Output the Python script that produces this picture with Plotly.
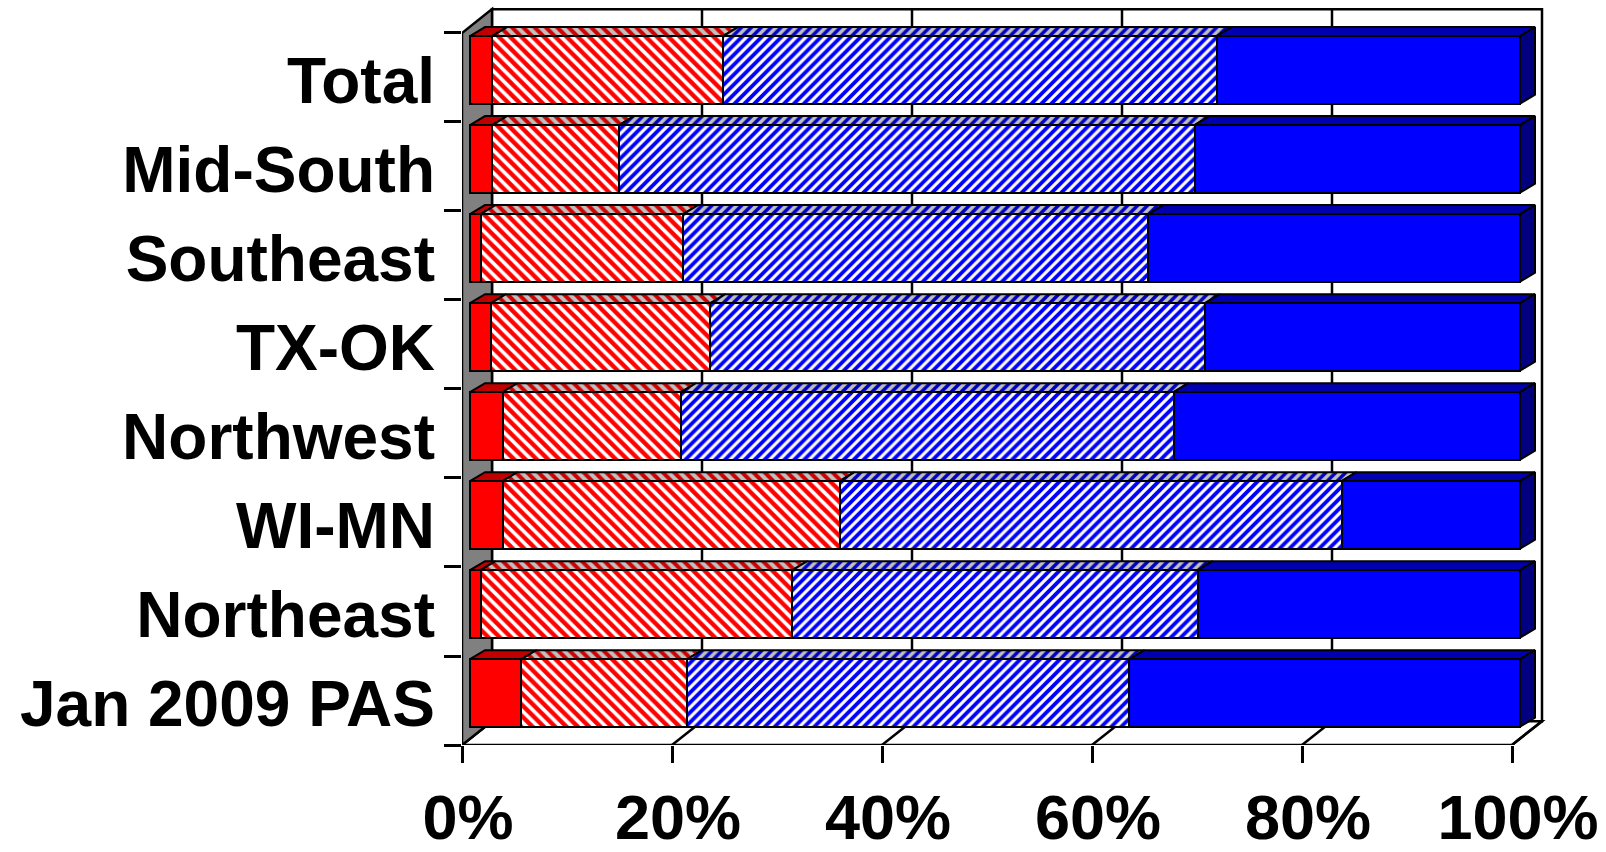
import plotly.graph_objects as go

# Regions, bottom to top as drawn on the category axis
categories = ["Jan 2009 PAS", "Northeast", "WI-MN", "Northwest",
              "TX-OK", "Southeast", "Mid-South", "Total"]

# Shares (%) of each stacked segment, left to right
solid_red = [4.9, 1.0, 3.1, 3.1, 2.0, 1.0, 2.1, 2.1]
hatched_red = [15.8, 29.7, 32.1, 17.0, 20.9, 19.3, 12.1, 22.0]
hatched_blue = [42.1, 38.6, 47.8, 46.9, 47.1, 44.3, 54.8, 47.0]
solid_blue = [37.2, 30.7, 17.0, 33.0, 30.0, 35.4, 31.0, 28.9]

x_ticks = [0, 20, 40, 60, 80, 100]

# ---- geometry of the pseudo-3D frame (pixel scale -> data units) ----
W, H = 1606, 852
LEFT, BOTTOM = 462, 102
PLOT_W, PLOT_H = W - LEFT, H - BOTTOM
PX_X = 10.5          # pixels per percent
PX_Y = 89.6          # pixels per category row
XR = [0, PLOT_W / PX_X]
YR = [-0.5, -0.5 + PLOT_H / PX_Y]

WALL_DX, WALL_DY = 30 / PX_X, 24 / PX_Y     # full depth of the box
BAR_X0, BAR_Y0 = 8 / PX_X, 7.7 / PX_Y       # bar front plane behind the axis plane
BAR_DX, BAR_DY = 15 / PX_X, 9 / PX_Y        # bar thickness (depth)
HALF = 34 / PX_Y                             # half bar height


def hatch(shape, fg, bg, size, solidity):
    return dict(shape=shape, fgcolor=fg, bgcolor=bg, size=size,
                solidity=solidity, fgopacity=1, fillmode="replace")


n = len(categories)
rows = list(range(n))
series = [
    dict(name="Solid red", vals=solid_red,
         front=dict(color="#FF0000"),
         top=dict(fill="#C00000", pattern=None)),
    dict(name="Hatched red", vals=hatched_red,
         front=dict(color="#FF0000", pattern=hatch("\\", "#FF0000", "#FFFFFF", 8, 0.55)),
         top=dict(fill="#C0C0C0", pattern=hatch("\\", "#D00000", "#C0C0C0", 8, 0.5))),
    dict(name="Hatched blue", vals=hatched_blue,
         front=dict(color="#0000FF", pattern=hatch("/", "#0000FF", "#FFFFFF", 7, 0.55)),
         top=dict(fill="#C0C0C0", pattern=hatch("/", "#0000C0", "#C0C0C0", 7, 0.5))),
    dict(name="Solid blue", vals=solid_blue,
         front=dict(color="#0000FF"),
         top=dict(fill="#0000B0", pattern=None)),
]

fig = go.Figure()

# ---- top faces of every segment (on the bar axes) ----
cum = [0.0] * n
for s in series:
    xs, ys = [], []
    for k in rows:
        a = cum[k]
        b = a + s["vals"][k]
        yt = k + HALF
        xs += [a, b, b + BAR_DX, a + BAR_DX, a, None]
        ys += [yt, yt, yt + BAR_DY, yt + BAR_DY, yt, None]
        cum[k] = b
    kw = dict(fillcolor=s["top"]["fill"])
    if s["top"]["pattern"]:
        kw["fillpattern"] = s["top"]["pattern"]
    fig.add_trace(go.Scatter(x=xs, y=ys, xaxis="x2", yaxis="y2", mode="lines",
                             fill="toself", line=dict(color="black", width=2),
                             hoverinfo="skip", showlegend=False, **kw))

# ---- right-hand end faces ----
xs, ys = [], []
for k in rows:
    end = cum[k]
    xs += [end, end + BAR_DX, end + BAR_DX, end, end, None]
    ys += [k - HALF, k - HALF + BAR_DY, k + HALF + BAR_DY, k + HALF, k - HALF, None]
fig.add_trace(go.Scatter(x=xs, y=ys, xaxis="x2", yaxis="y2", mode="lines",
                         fill="toself", fillcolor="#000080",
                         line=dict(color="black", width=2),
                         hoverinfo="skip", showlegend=False))

# ---- front faces: stacked horizontal bars ----
for s in series:
    marker = dict(color=s["front"]["color"], line=dict(color="black", width=2.5))
    if "pattern" in s["front"]:
        marker["pattern"] = s["front"]["pattern"]
    fig.add_trace(go.Bar(x=s["vals"], y=rows, orientation="h", name=s["name"],
                         width=2 * HALF, marker=marker, xaxis="x2", yaxis="y2",
                         showlegend=False))

# ---- box: back wall, floor, left wall ----
shapes = []
blk = dict(color="black", width=2.5)
y_lo, y_hi = -0.5, n - 0.5
# back wall
shapes.append(dict(type="rect", xref="x", yref="y", layer="below",
                   x0=WALL_DX, x1=100 + WALL_DX, y0=y_lo + WALL_DY, y1=y_hi + WALL_DY,
                   fillcolor="white", line=blk))
for t in x_ticks[1:-1]:
    shapes.append(dict(type="line", xref="x", yref="y", layer="below",
                       x0=t + WALL_DX, x1=t + WALL_DX,
                       y0=y_lo + WALL_DY, y1=y_hi + WALL_DY, line=blk))
# floor
shapes.append(dict(type="path", xref="x", yref="y", layer="below",
                   path=f"M0,{y_lo} L100,{y_lo} L{100 + WALL_DX},{y_lo + WALL_DY} "
                        f"L{WALL_DX},{y_lo + WALL_DY} Z",
                   fillcolor="white", line=blk))
for t in x_ticks:
    shapes.append(dict(type="line", xref="x", yref="y", layer="below",
                       x0=t, x1=t + WALL_DX, y0=y_lo, y1=y_lo + WALL_DY, line=blk))
# left wall
shapes.append(dict(type="path", xref="x", yref="y", layer="below",
                   path=f"M0,{y_lo} L0,{y_hi} L{WALL_DX},{y_hi + WALL_DY} "
                        f"L{WALL_DX},{y_lo + WALL_DY} Z",
                   fillcolor="#808080", line=blk))

label_font = dict(family="Liberation Sans, Arial, sans-serif", size=64,
                  color="black", weight="bold")

fig.update_layout(
    width=W, height=H,
    margin=dict(l=LEFT, r=0, t=0, b=BOTTOM),
    paper_bgcolor="white", plot_bgcolor="white",
    barmode="stack", bargap=0,
    shapes=shapes,
    xaxis=dict(range=XR, tickvals=x_ticks, ticktext=[f"{t}%" for t in x_ticks],
               ticks="outside", ticklen=17, tickwidth=2.5, tickcolor="black",
               ticklabelshift=6,
               showgrid=False, zeroline=False, showline=False,
               tickfont=dict(label_font, size=63), fixedrange=True),
    yaxis=dict(range=YR, tickvals=rows, ticktext=categories, ticks="",
               ticklabelstandoff=26, ticklabelshift=3,
               minor=dict(tickvals=[k - 0.5 for k in range(n + 1)], ticks="outside",
                          ticklen=17, tickwidth=2.5, tickcolor="black", showgrid=False),
               showgrid=False, zeroline=False, showline=False,
               tickfont=label_font, fixedrange=True),
    xaxis2=dict(overlaying="x", range=[XR[0] - BAR_X0, XR[1] - BAR_X0],
                visible=False, fixedrange=True),
    yaxis2=dict(overlaying="y", range=[YR[0] - BAR_Y0, YR[1] - BAR_Y0],
                visible=False, fixedrange=True),
)

fig.write_html("out.html")
